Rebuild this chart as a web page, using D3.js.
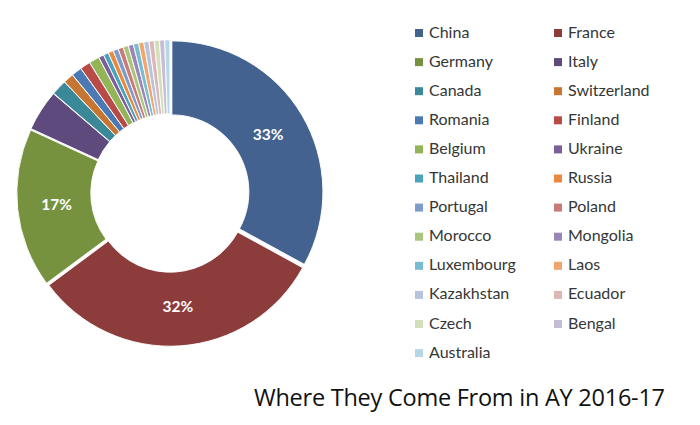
<!DOCTYPE html>
<html>
<head>
<meta charset="utf-8">
<script src="https://cdn.jsdelivr.net/npm/d3@7/dist/d3.min.js"></script>
<style>
  html, body { margin: 0; padding: 0; background: #ffffff; }
  svg { display: block; }
</style>
</head>
<body>
<svg id="chart" width="700" height="425"></svg>
<script>
const countries = ["China", "France", "Germany", "Italy", "Canada", "Switzerland", "Romania", "Finland",
  "Belgium", "Ukraine", "Thailand", "Russia", "Portugal", "Poland", "Morocco", "Mongolia",
  "Luxembourg", "Laos", "Kazakhstan", "Ecuador", "Czech", "Bengal", "Australia"];
const students = [60, 58, 31, 8, 3, 2, 2, 2, 2, 1, 1, 1, 1, 1, 1, 1, 1, 1, 1, 1, 1, 1, 1];
const colors = ["#43628f", "#8c3c3b", "#76923f", "#5e4a7c", "#3a8898", "#c47632",
  "#4b79b4", "#b84a48", "#93b457", "#7a5f9b", "#4aa3bc", "#e8893f",
  "#7d9bcb", "#c97b79", "#aac67d", "#9a87b8", "#78bcd2", "#f2a56c",
  "#b7c4de", "#ddb6b6", "#d3dfbb", "#c5bcd8", "#b6d7e4"];
const title = "Where They Come From in AY 2016-17";

const svg = d3.select("#chart");
const cx = 170, cy = 193, rInner = 77, rOuter = 151, explode = 2.2;
const total = d3.sum(students);

const pie = d3.pie().sort(null).value(d => d)(students);
const arc = d3.arc().innerRadius(rInner).outerRadius(rOuter);
const labelArc = d3.arc().innerRadius((rInner + rOuter) / 2).outerRadius((rInner + rOuter) / 2);

const g = svg.append("g").attr("transform", `translate(${cx},${cy})`);
g.selectAll("path.slice").data(pie).join("path")
  .attr("class", "slice")
  .attr("d", arc)
  .attr("fill", (d, i) => colors[i])
  .attr("stroke", "#ffffff")
  .attr("stroke-width", 0.9)
  .attr("transform", d => {
    const a = (d.startAngle + d.endAngle) / 2;
    return `translate(${explode * Math.sin(a)},${-explode * Math.cos(a)})`;
  });

g.selectAll("text.pct").data(pie.filter(d => d.value / total >= 0.1)).join("text")
  .attr("class", "pct")
  .attr("transform", d => `translate(${labelArc.centroid(d)})`)
  .attr("text-anchor", "middle")
  .attr("dy", "0.35em")
  .attr("fill", "#ffffff")
  .attr("font-family", "Lato, 'Open Sans', sans-serif")
  .attr("font-weight", "bold")
  .attr("font-size", 15.5)
  .text(d => Math.round(d.value / total * 100) + "%");

// Legend
const legend = svg.append("g");
const colX = [415, 554], rowY0 = 29, rowStep = 29.1;
const items = legend.selectAll("g.item").data(countries).join("g")
  .attr("class", "item")
  .attr("transform", (d, i) => `translate(${colX[i % 2]},${rowY0 + Math.floor(i / 2) * rowStep})`);
items.append("rect").attr("width", 8).attr("height", 8).attr("fill", (d, i) => colors[i]);
items.append("text").attr("x", 14).attr("y", 8.5)
  .attr("font-family", "Lato, 'Open Sans', sans-serif")
  .attr("font-size", 16)
  .attr("fill", "#363636")
  .text(d => d);

svg.append("text")
  .attr("x", 254).attr("y", 406)
  .attr("font-family", "'Open Sans', sans-serif")
  .attr("font-size", 23.5)
  .attr("fill", "#111111")
  .attr("textLength", 411)
  .attr("lengthAdjust", "spacing")
  .text(title);
</script>
</body>
</html>
